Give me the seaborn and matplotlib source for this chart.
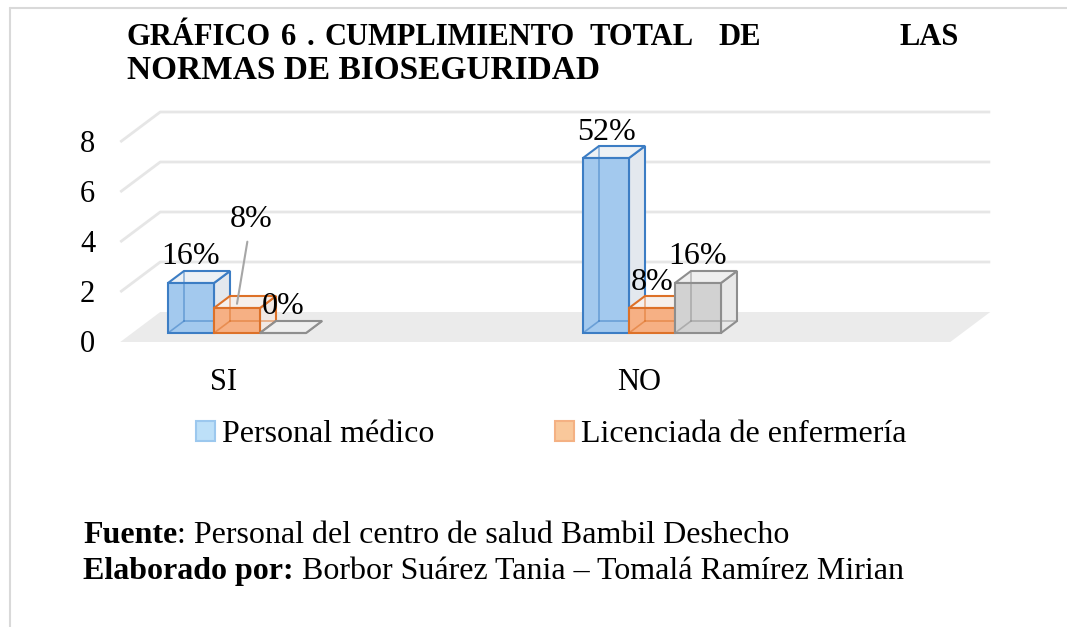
import matplotlib.pyplot as plt
import matplotlib.patches as mpatches
import pandas as pd
import seaborn as sns

# datos del gráfico
categorias = ["SI", "NO"]
series = ["Personal médico", "Licenciada de enfermería", "Serie 3"]
personal_medico = [2, 7]
lic_enfermeria = [1, 1]
serie_3 = [0, 2]
etiq_medico = ["16%", "52%"]
etiq_enfermeria = ["8%", "8%"]
etiq_serie3 = ["0%", "16%"]
ticks_y = [0, 2, 4, 6, 8]

df = pd.DataFrame({
    "cat": categorias * 3,
    "serie": [s for s in series for _ in categorias],
    "valor": personal_medico + lic_enfermeria + serie_3,
    "etiqueta": etiq_medico + etiq_enfermeria + etiq_serie3,
})

sns.set_style("white")
plt.rcParams["font.family"] = ["Liberation Serif", "DejaVu Serif"]
plt.rcParams["text.color"] = "black"

# colores de cada serie (frente, borde, lado, tapa)
estilo = {
    "Personal médico": ("#A3C9EE", "#3C7DC4", "#E3E8EE", "#EDF1F5"),
    "Licenciada de enfermería": ("#F6B084", "#DD7128", "#F1E9E4", "#F6F0EC"),
    "Serie 3": ("#D2D2D2", "#8E8E8E", "#E8E8E8", "#EFEFEF"),
}

W, H = 1067, 627
fig = plt.figure(figsize=(W / 100, H / 100), dpi=100)
ax = fig.add_axes([71 / W, (H - 348) / H, 933.75 / W, 250 / H])

sns.barplot(data=df, x="cat", y="valor", hue="serie", hue_order=series,
            order=categorias, palette={s: estilo[s][0] for s in series},
            width=0.3325, saturation=1, legend=False, ax=ax, zorder=3)
ax.set_xlim(-0.4, 1.85)
ax.set_ylim(-0.6, 9.4)
ax.axis("off")

# pixeles por unidad de datos
px_x = 933.75 / 2.25
px_y = 250 / 10.0


def mover(x, y, dxp, dyp):
    return (x + dxp / px_x, y + dyp / px_y)


F = (-13, -9)   # frente del piso
B = (27, 21)    # fondo del piso
D = (16, 12)    # profundidad de cada barra
x_izq, x_der = -0.25, 1.75

# piso
piso = [mover(x_izq, 0, *F), mover(x_der, 0, *F), mover(x_der, 0, *B), mover(x_izq, 0, *B)]
ax.add_patch(mpatches.Polygon(piso, closed=True, fc="#EBEBEB", ec="none", zorder=1))

# líneas de la cuadrícula
for v in ticks_y[1:]:
    pts = [mover(x_izq, v, *F), mover(x_izq, v, *B), mover(x_der, v, *B)]
    ax.plot([p[0] for p in pts], [p[1] for p in pts], color="#E6E6E6", lw=2, zorder=1.5,
            solid_capstyle="butt")

for v in ticks_y:
    x, y = mover(x_izq, v, F[0] - 25, F[1] - 2)
    ax.text(x, y, str(v), ha="right", va="center", fontsize=22)

for i, c in enumerate(categorias):
    x, y = mover(i, 0, F[0], F[1] - 41)
    ax.text(x, y, c, ha="center", va="center", fontsize=22)

ddx, ddy = D[0] / px_x, D[1] / px_y
desplazar = {("SI", "Licenciada de enfermería"): (14, 84)}

for k, (serie, cont) in enumerate(zip(series, ax.containers)):
    front, edge, side, top = estilo[serie]
    z = 3 + k
    sub = df[df["serie"] == serie]
    for p, (_, fila) in zip(cont.patches, sub.iterrows()):
        x0, w, h = p.get_x(), p.get_width(), p.get_height()
        FL, FR, FRt, FLt = (x0, 0), (x0 + w, 0), (x0 + w, h), (x0, h)
        BL, BR = (x0 + ddx, ddy), (x0 + w + ddx, ddy)
        BRt, BLt = (x0 + w + ddx, h + ddy), (x0 + ddx, h + ddy)
        ax.add_patch(mpatches.Polygon([FR, FRt, BRt, BR], fc=side, ec=edge, lw=1.5, zorder=z))
        ax.add_patch(mpatches.Polygon([FLt, FRt, BRt, BLt], fc=top, ec=edge, lw=1.5, zorder=z + 0.1))
        p.set_edgecolor(edge)
        p.set_linewidth(1.5)
        p.set_zorder(z + 0.2)
        for a, b in [(FL, BL), (BL, BR), (BL, BLt)]:
            ax.plot([a[0], b[0]], [a[1], b[1]], color=edge, lw=1.2, alpha=0.55, zorder=z + 0.3)

        clave = (fila["cat"], serie)
        if clave in desplazar:
            ax.annotate(fila["etiqueta"], xy=(x0 + w / 2, h + ddy * 0.35),
                        xytext=desplazar[clave], textcoords="offset pixels",
                        ha="center", va="center", fontsize=23, zorder=10,
                        arrowprops=dict(arrowstyle="-", color="#A6A6A6", lw=1.5,
                                        shrinkA=3, shrinkB=0))
        else:
            ax.annotate(fila["etiqueta"], xy=(x0 + w / 2, h + ddy),
                        xytext=(0, 14), textcoords="offset pixels",
                        ha="center", va="center", fontsize=23, zorder=10)

# leyenda (solo dos series)
handles = [mpatches.Patch(fc="#BDE0F8", ec="#9CC8EE", lw=1.5),
           mpatches.Patch(fc="#F9C89B", ec="#F4B183", lw=1.5)]
fig.legend(handles, series[:2], loc="center left", bbox_to_anchor=(196 / W, 1 - 435 / H),
           ncol=2, frameon=False, borderpad=0, borderaxespad=0, handlelength=0.6,
           handleheight=0.6, handletextpad=0.2, columnspacing=3.8, fontsize=23)

# título (línea justificada)
palabras = [("GRÁFICO", 127), ("6", 281), (".", 307), ("CUMPLIMIENTO", 325),
            ("TOTAL", 590), ("DE", 718), ("LAS", 900)]
for txt, x in palabras:
    fig.text(x / W, 1 - 45 / H, txt, fontsize=22, fontweight="bold", va="baseline")
fig.text(127 / W, 1 - 79 / H, "NORMAS DE BIOSEGURIDAD", fontsize=24, fontweight="bold",
         va="baseline")

# fuente
t1 = fig.text(83 / W, 1 - 543 / H, "Fuente", fontsize=23, fontweight="bold", va="baseline")
ax.annotate(": Personal del centro de salud Bambil Deshecho", xy=(1, 0), xycoords=t1,
            va="bottom", ha="left", fontsize=23)
t2 = fig.text(83 / W, 1 - 579 / H, "Elaborado por:", fontsize=23, fontweight="bold",
              va="baseline")
ax.annotate(" Borbor Suárez Tania – Tomalá Ramírez Mirian", xy=(1, 0), xycoords=t2,
            va="bottom", ha="left", fontsize=23)

# borde del cuadro
fig.add_artist(plt.Line2D([10 / W, 10 / W], [0, 1 - 8 / H], color="#D9D9D9", lw=1.5))
fig.add_artist(plt.Line2D([10 / W, 1], [1 - 8 / H, 1 - 8 / H], color="#D9D9D9", lw=1.5))

fig.savefig("out.png", dpi=100)
